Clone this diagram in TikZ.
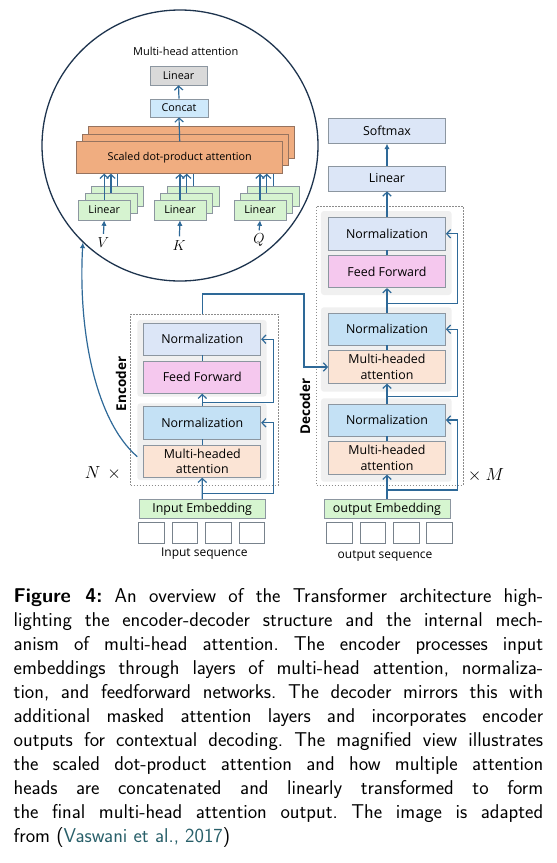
\documentclass[tikz,border=0pt]{standalone}
\usepackage{fix-cm}
\usepackage{fontspec}
\newfontfamily\boxfont{Open Sans}
\usetikzlibrary{arrows.meta,shapes.geometric}

\definecolor{arrowblue}{RGB}{46,105,152}
\definecolor{circleblue}{RGB}{30,52,78}
\definecolor{boxgray}{RGB}{140,150,160}
\definecolor{normlav}{RGB}{220,230,247}
\definecolor{normblue}{RGB}{196,225,245}
\definecolor{ffpink}{RGB}{245,200,238}
\definecolor{attnpeach}{RGB}{251,228,213}
\definecolor{embgreen}{RGB}{214,245,208}
\definecolor{layergray}{RGB}{240,240,240}
\definecolor{dashgray}{RGB}{140,140,140}
\definecolor{sdpaorange}{RGB}{240,173,128}
\definecolor{sdpaline}{RGB}{150,115,95}
\definecolor{lingray}{RGB}{217,217,217}
\definecolor{concatblue}{RGB}{206,233,251}
\definecolor{lingreen}{RGB}{214,243,208}
\definecolor{seqgray}{RGB}{120,130,140}
\definecolor{citeteal}{RGB}{40,95,105}

\begin{document}
\begin{tikzpicture}[x=1pt, y=-1pt,
  mainbox/.style={draw=boxgray, line width=0.7pt, inner sep=0pt, align=center,
    minimum width=117pt, font=\boxfont\fontsize{12.4}{15.5}\selectfont},
  smallbox/.style={draw=boxgray, line width=0.6pt, inner sep=0pt,
    font=\boxfont\fontsize{10.8}{12}\selectfont},
  sdpabox/.style={draw=sdpaline, fill=sdpaorange, line width=0.7pt, inner sep=0pt,
    minimum width=206pt, minimum height=31.6pt, font=\boxfont\fontsize{10.8}{12}\selectfont},
  linbox/.style={smallbox, fill=lingreen, minimum width=52pt, minimum height=20pt},
  graylayer/.style={fill=layergray, rounded corners=3pt, inner sep=0pt},
  dashframe/.style={draw=dashgray, line width=0.6pt, dash pattern=on 1.6pt off 1.4pt, inner sep=0pt},
  seqbox/.style={draw=seqgray, fill=white, line width=0.7pt, minimum width=25.5pt,
    minimum height=20.5pt, inner sep=0pt},
  flowarrow/.style={draw=arrowblue, line width=1.2pt, -{Straight Barb[length=4pt,width=8.5pt]}},
  plainline/.style={draw=arrowblue, line width=1.2pt},
  filledarrow/.style={draw=arrowblue, line width=1.2pt, -{Latex[length=5.5pt,width=5.5pt]}},
  mathlabel/.style={inner sep=1pt, font=\fontsize{14.5}{17}\selectfont},
  repeatlabel/.style={inner sep=1pt, font=\fontsize{17.5}{20}\selectfont},
  seqlabel/.style={font=\boxfont\fontsize{12}{14}\selectfont},
  sidelabel/.style={rotate=90, font=\boxfont\bfseries\fontsize{13.5}{16}\selectfont}
]

\useasboundingbox (0,0) rectangle (557,863);

\node (lens) [ellipse, draw=circleblue, line width=1.3pt, minimum width=276pt, minimum height=271pt] at (180,145.5) {};

\node (mhtitle) [font=\boxfont\fontsize{11}{13}\selectfont] at (185.7,51.7) {Multi-head attention};
\node (mhlinear) [smallbox, fill=lingray, minimum width=57pt, minimum height=19pt] at (178.5,75.5) {Linear};
\node (concat) [smallbox, fill=concatblue, minimum width=58pt, minimum height=18pt] at (179,108) {Concat};

\foreach \k in {2,1}
  \node (sdpa\k) [sdpabox] at ({179.7+6*\k},{157.5-7.5*\k}) {};
\node (sdpa) [sdpabox] at (179.7,157.5) {Scaled dot-product attention};

\draw [flowarrow] (sdpa.north) -- (concat.south);
\draw [flowarrow] (concat.north) -- (mhlinear.south);

\foreach \name/\cx in {v/104.2, k/180, q/260} {
  \foreach \k in {2,1}
    \node (lin\name\k) [linbox] at ({\cx+6.7*\k},{210-6.7*\k}) {};
  \draw [plainline] (lin\name2.north) -- (lin\name2.north |- sdpa.south);
  \draw [flowarrow] (lin\name1.north) -- (lin\name1.north |- sdpa.south);
  \node (lin\name) [linbox] at (\cx,210) {Linear};
  \draw [flowarrow] (lin\name.north) -- (lin\name.north |- sdpa.south);
}

\node (vlab) [mathlabel] at (103.3,243) {$V$};
\node (klab) [mathlabel] at (179.3,245.5) {$K$};
\node (qlab) [mathlabel] at (259,240) {$Q$};
\draw [filledarrow, shorten <=3pt] (vlab.north) -- (linv.south);
\draw [filledarrow, shorten <=3pt] (klab.north) -- (link.south);
\draw [filledarrow, shorten <=2pt] (qlab.north) -- (linq.south);

\node (encframe) [dashframe, minimum width=147.6pt, minimum height=170.7pt] at (204.5,399.7) {};
\node (enclayer2) [graylayer, minimum width=129.4pt, minimum height=76.7pt] at (202,358.3) {};
\node (enclayer1) [graylayer, minimum width=129.4pt, minimum height=76.7pt] at (202,441.7) {};
\node (encnorm2) [mainbox, fill=normlav, minimum height=31.7pt] at (202.3,339.2) {Normalization};
\node (encff) [mainbox, fill=ffpink, minimum height=32.3pt] at (202.3,377.2) {Feed Forward};
\node (encnorm1) [mainbox, fill=normblue, minimum height=32.3pt] at (202.3,422.8) {Normalization};
\node (encattn) [mainbox, fill=attnpeach, minimum height=32.3pt] at (202.3,461.2) {Multi-headed\\attention};
\node (inemb) [mainbox, fill=embgreen, minimum width=125.7pt, minimum height=19pt] at (202.2,508.8) {Input Embedding};

\foreach \i in {0,...,3}
  \node (inseq\i) [seqbox] at ({151.3+33.45*\i},533) {};
\node (inseqlab) [seqlabel] at (204.3,554) {Input sequence};

\node (enclabel) [sidelabel] at (121,384) {Encoder};
\node (nrepeat) [repeatlabel] at (103,473) {$N$\hspace{7pt}$\times$};

\coordinate (encsplit1) at (202.3,493.3);
\coordinate (encsplit2) at (202.3,402.3);
\coordinate (encside) at (273.3,400);
\draw [flowarrow] (inemb.north) -- (encattn.south);
\draw [flowarrow] (encsplit1) -| (encside |- encnorm1.east) -- (encnorm1.east);
\draw [plainline] (encattn.north) -- (encnorm1.south);
\draw [flowarrow] (encnorm1.north) -- (encff.south);
\draw [flowarrow] (encsplit2) -| (encside |- encnorm2.east) -- (encnorm2.east);
\draw [plainline] (encff.north) -- (encnorm2.south);

\node (softmax) [mainbox, fill=normlav, minimum height=25pt] at (387,130.8) {Softmax};
\node (declinear) [mainbox, fill=normlav, minimum height=25pt] at (387,178.5) {Linear};

\node (decframe) [dashframe, minimum width=146.6pt, minimum height=279pt] at (390,345.5) {};
\node (declayer3) [graylayer, minimum width=130.7pt, minimum height=84pt] at (386.3,253) {};
\node (declayer2) [graylayer, minimum width=130.7pt, minimum height=84.4pt] at (386.3,349.5) {};
\node (declayer1) [graylayer, minimum width=130.7pt, minimum height=83.4pt] at (386.3,440) {};
\node (decnorm3) [mainbox, fill=normlav, minimum height=32.7pt] at (387,233.7) {Normalization};
\node (decff) [mainbox, fill=ffpink, minimum height=32pt] at (387,271.7) {Feed Forward};
\node (decnorm2) [mainbox, fill=normblue, minimum height=31.7pt] at (387,329.2) {Normalization};
\node (decattn2) [mainbox, fill=attnpeach, minimum height=32.6pt] at (387,367) {Multi-headed\\attention};
\node (decnorm1) [mainbox, fill=normblue, minimum height=32pt] at (387,420) {Normalization};
\node (decattn1) [mainbox, fill=attnpeach, minimum height=32.6pt] at (387,458) {Multi-headed\\attention};
\node (outemb) [mainbox, fill=embgreen, minimum width=126pt, minimum height=19pt] at (387,508.8) {output Embedding};

\foreach \i in {0,...,3}
  \node (outseq\i) [seqbox] at ({339.5+33.35*\i},533) {};
\node (outseqlab) [seqlabel] at (385,556) {output sequence};

\node (declabel) [sidelabel] at (305,406.7) {Decoder};
\node (mrepeat) [repeatlabel] at (486,475) {$\times$\hspace{4pt}$M$};

\coordinate (decsplit1) at (387,490);
\coordinate (decsplit2) at (387,396.7);
\coordinate (decsplit3) at (387,303.3);
\coordinate (decside) at (457.7,400);
\draw [flowarrow] (outemb.north) -- (decattn1.south);
\draw [flowarrow] (decsplit1) -| (decside |- decnorm1.east) -- (decnorm1.east);
\draw [plainline] (decattn1.north) -- (decnorm1.south);
\draw [flowarrow] (decnorm1.north) -- (decattn2.south);
\draw [flowarrow] (decsplit2) -| (decside |- decnorm2.east) -- (decnorm2.east);
\draw [plainline] (decattn2.north) -- (decnorm2.south);
\draw [flowarrow] (decnorm2.north) -- (decff.south);
\draw [flowarrow] (decsplit3) -| (decside |- decnorm3.east) -- (decnorm3.east);
\draw [plainline] (decff.north) -- (decnorm3.south);
\draw [flowarrow] (decnorm3.north) -- (declinear.south);
\draw [filledarrow] (declinear.north) -- (softmax.south);

\coordinate (encup) at (202.3,294);
\coordinate (decdown) at (304,294);
\draw [flowarrow] (encframe.north -| encnorm2.north) -- (encup) -- (decdown) |- (decattn2.west);

\coordinate (tolens) at (137.3,456.7);
\draw [filledarrow] (tolens) .. controls (95,420) and (78,330) .. (lens.225);

\node (caption) [anchor=north west, inner sep=0pt, align=left,
  font=\sffamily\frenchspacing\fontsize{20}{24}\selectfont] at (13.5,587.8) {%
  \makebox[529.5pt][s]{\textbf{Figure 4:} An overview of the Transformer architecture high-}\\
  \makebox[529.5pt][s]{lighting the encoder-decoder structure and the internal mech-}\\
  \makebox[529.5pt][s]{anism of multi-head attention. The encoder processes input}\\
  \makebox[529.5pt][s]{embeddings through layers of multi-head attention, normaliza-}\\
  \makebox[529.5pt][s]{tion, and feedforward networks. The decoder mirrors this with}\\
  \makebox[529.5pt][s]{additional masked attention layers and incorporates encoder}\\
  \makebox[529.5pt][s]{outputs for contextual decoding. The magnified view illustrates}\\
  \makebox[529.5pt][s]{the scaled dot-product attention and how multiple attention}\\
  \makebox[529.5pt][s]{heads are concatenated and linearly transformed to form}\\
  \makebox[529.5pt][s]{the final multi-head attention output. The image is adapted}\\
  from ({\color{citeteal}Vaswani et al., 2017})};

\end{tikzpicture}
\end{document}
